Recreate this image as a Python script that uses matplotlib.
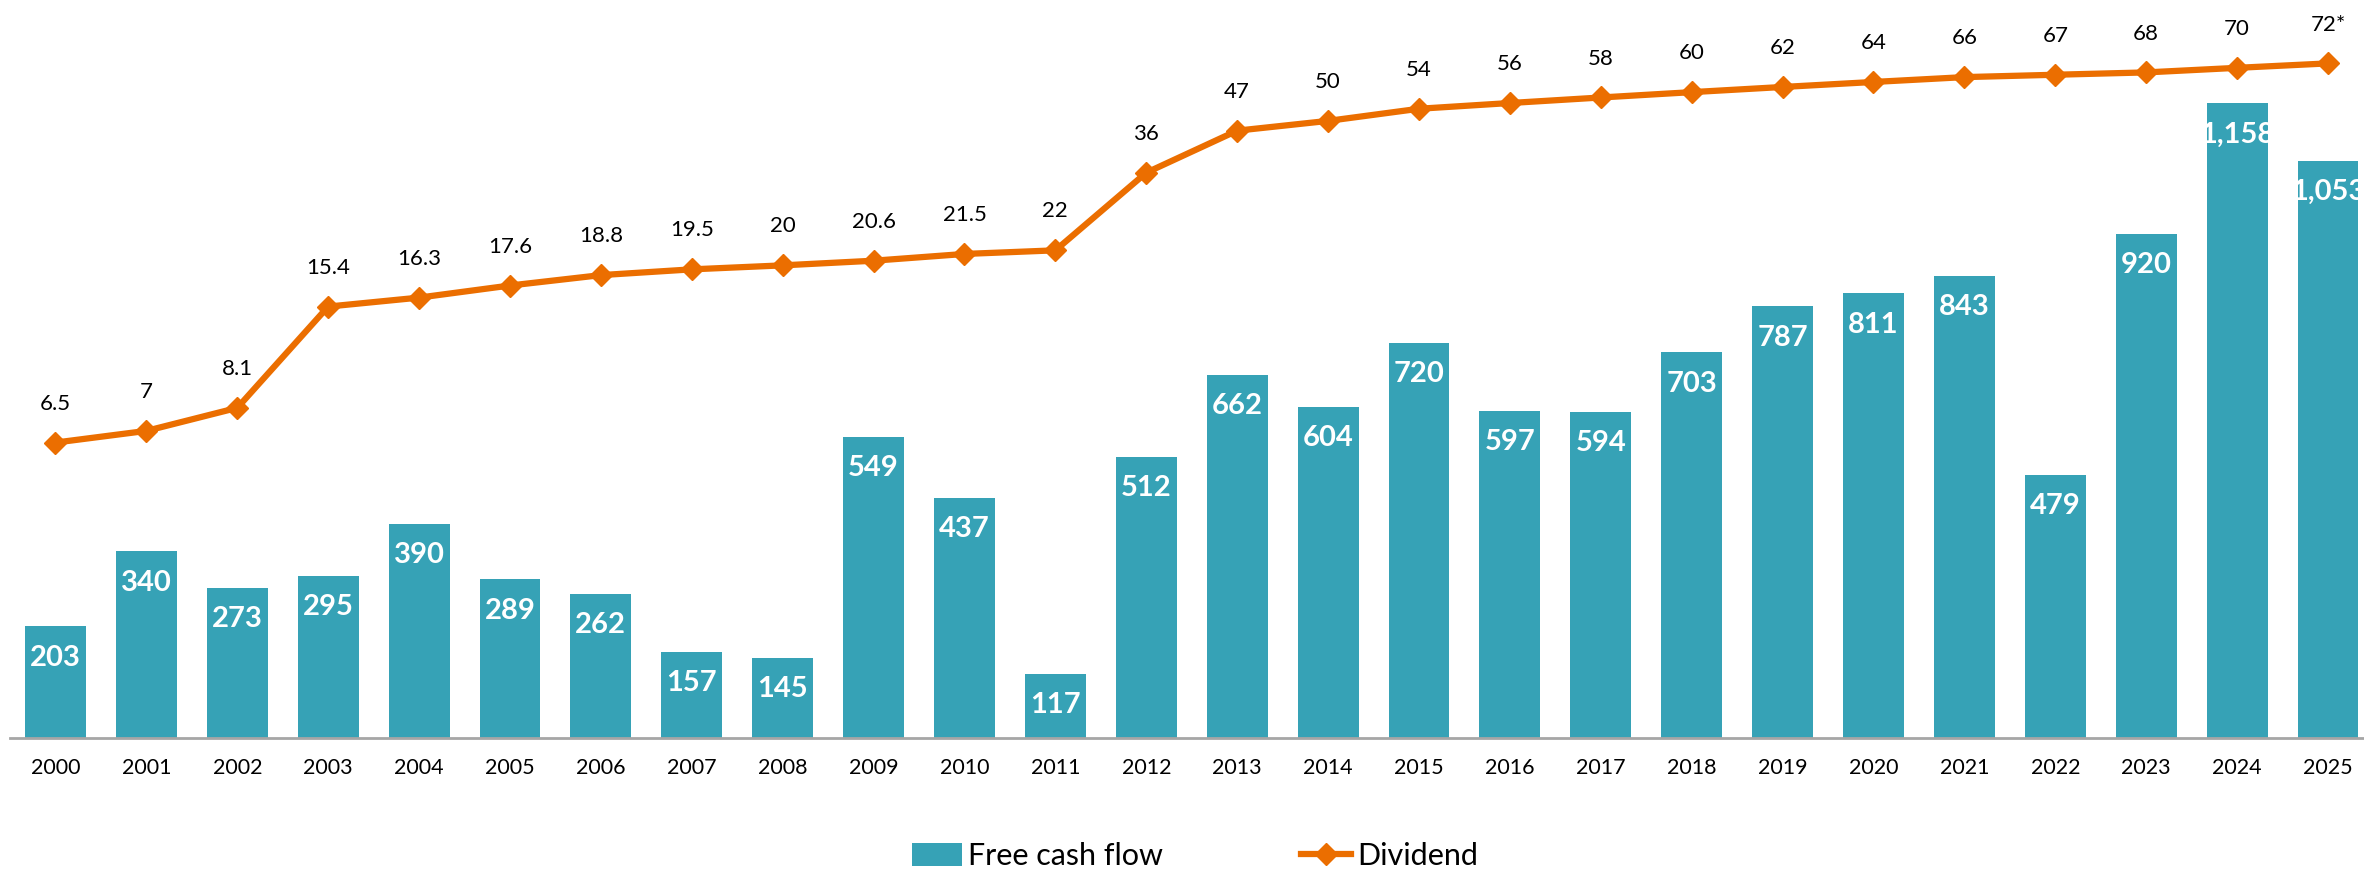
import matplotlib
matplotlib.use("Agg")
import matplotlib.pyplot as plt
import numpy as np
from matplotlib.patches import Patch
from matplotlib.lines import Line2D

years = [str(y) for y in range(2000, 2026)]
free_cash_flow = [203, 340, 273, 295, 390, 289, 262, 157, 145, 549, 437, 117, 512,
                  662, 604, 720, 597, 594, 703, 787, 811, 843, 479, 920, 1158, 1053]
dividend = [6.5, 7, 8.1, 15.4, 16.3, 17.6, 18.8, 19.5, 20, 20.6, 21.5, 22, 36,
            47, 50, 54, 56, 58, 60, 62, 64, 66, 67, 68, 70, 72]
dividend_labels = ["6.5", "7", "8.1", "15.4", "16.3", "17.6", "18.8", "19.5", "20",
                   "20.6", "21.5", "22", "36", "47", "50", "54", "56", "58", "60",
                   "62", "64", "66", "67", "68", "70", "72*"]

TEAL = "#36A2B6"
ORANGE = "#EB6E00"
FONT = "Lato"

W, H = 2364, 873
fig = plt.figure(figsize=(W / 100, H / 100), dpi=100)
left_px, right_px, top_px, bottom_px = 10, 2364, 11.6, 737.7
ax = fig.add_axes([left_px / W, 1 - bottom_px / H, (right_px - left_px) / W,
                   (bottom_px - top_px) / H])

x = np.arange(len(years))
bars = ax.bar(x, free_cash_flow, width=0.67, color=TEAL, zorder=2)
ax.set_xlim(-0.5, 25.396)
ax.set_ylim(0, 1325)

for xi, v in zip(x, free_cash_flow):
    ax.annotate(f"{v:,}", (xi, v), xytext=(0, -22.5), textcoords="offset points",
                ha="center", va="center", color="white", fontsize=21,
                fontweight="bold", family=FONT, zorder=3)

for s in ["top", "left", "right"]:
    ax.spines[s].set_visible(False)
ax.spines["bottom"].set_color("#A6A6A6")
ax.spines["bottom"].set_linewidth(2)
ax.set_yticks([])
ax.set_xticks(x)
ax.set_xticklabels(years, fontsize=15.5, family=FONT)
ax.tick_params(axis="x", length=0, pad=14.5)

ax2 = ax.twinx()
ax2.set_yscale("log")
ax2.set_ylim(1, 100)
ax2.plot(x, dividend, color=ORANGE, lw=4.5, marker="D", ms=11, zorder=4)
for xi, v, lab in zip(x, dividend, dividend_labels):
    ax2.annotate(lab, (xi, v), xytext=(0, 28), textcoords="offset points",
                 ha="center", va="center", color="black", fontsize=16, family=FONT)
ax2.set_yticks([])
ax2.set_yticks([], minor=True)
for s in ["top", "left", "right", "bottom"]:
    ax2.spines[s].set_visible(False)

handles = [Patch(facecolor=TEAL, edgecolor="none"),
           Line2D([0], [0], color=ORANGE, lw=4.5, marker="D", ms=11)]
fig.legend(handles, ["Free cash flow", "Dividend"], loc="center",
           bbox_to_anchor=(1195 / W, 1 - 856 / H), ncol=2, frameon=False,
           prop={"family": FONT, "size": 22}, handlelength=1.65,
           handleheight=0.75, handletextpad=0.2, columnspacing=4.5,
           borderpad=0.2)

fig.savefig("out.png", dpi=100)
